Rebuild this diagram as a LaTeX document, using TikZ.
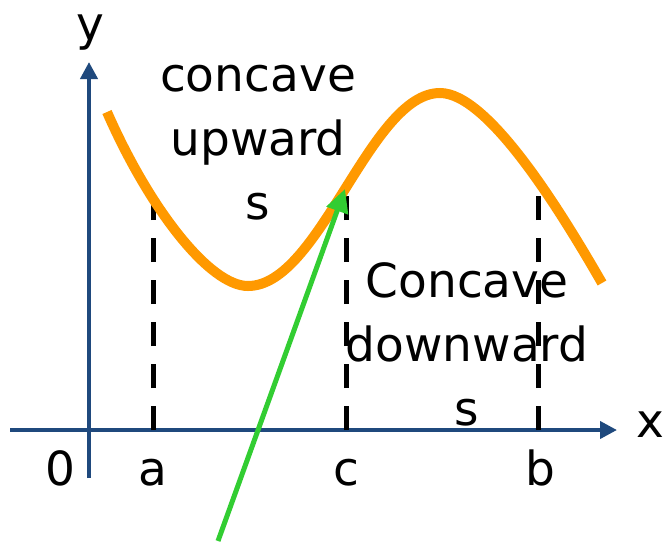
\documentclass[tikz,border=0pt]{standalone}
\usepackage{fontspec}
\setmainfont{DejaVu Sans}
\usepackage{tikz}
\usetikzlibrary{calc,  positioning,  arrows.meta}
\definecolor{axisblue}{RGB}{31,73,125}
\definecolor{curveorange}{RGB}{255,153,0}
\definecolor{arrowgreen}{RGB}{50,205,50}

\begin{document}
\begin{tikzpicture}[x=1pt, y=-1pt,
      lbl/.style={font=\fontsize{47}{64}\selectfont, inner sep=0pt, align=center},
      axisline/.style={draw=axisblue, line width=4pt, -{Triangle[length=17pt, width=17pt]}},
      guide/.style={draw=black, line width=5pt, dash pattern=on 24pt off 18pt}]
          \useasboundingbox (0, 0) rectangle (663, 544);
          % axes
          \coordinate (xstart) at (10, 430);
          \coordinate (xend) at (617, 430);
          \coordinate (ystart) at (89, 478);
          \coordinate (yend) at (89, 62);
          \draw[axisline] (xstart) -- (xend);
          \draw[axisline] (ystart) -- (yend);
          \node[lbl, anchor=base] (xlab) at (650, 437) {x};
          \node[lbl, anchor=base] (ylab) at (90, 40) {y};
          \node[lbl, anchor=base] (origin) at (60, 485) {0};
          \node[lbl, anchor=base] (alab) at (153, 485) {a};
          \node[lbl, anchor=base] (clab) at (346, 485) {c};
          \node[lbl, anchor=base] (blab) at (540, 485) {b};
          
          % dashed guides
          \coordinate (atop) at (153, 196);
          \coordinate (ctop) at (346, 196);
          \coordinate (btop) at (538, 196);
          \draw[guide] (atop |- xend) -- (atop);
          \draw[guide] (ctop |- xend) -- (ctop);
          \draw[guide] (btop |- xend) -- (btop);
          
          % the curve
          \coordinate (cstart) at (107, 112);
          \coordinate (cmin) at (248, 286);
          \coordinate (cmax) at (440, 93);
          \coordinate (cend) at (602, 283);
          \draw[curveorange, line width=10pt] (cstart) .. controls (150, 210) and (210, 286) .. (cmin)
                .. controls (320, 286) and (370, 93) .. (cmax)
                .. controls (488, 93) and (560, 210) .. (cend);
          
          % texts
          \node[lbl] (upward) at (258, 143) {concave\\upward\\s};
          \node[lbl] (downward) at (467, 344) {Concave\\downward\\s};
          
          % pointer
          \coordinate (ptail) at (218, 541);
          \coordinate (phead) at (345, 189);
          \draw[arrowgreen, line width=5pt, -{Triangle[length=23pt, width=22pt]}] (ptail) -- (phead);
          
      \end{tikzpicture}
\end{document}
